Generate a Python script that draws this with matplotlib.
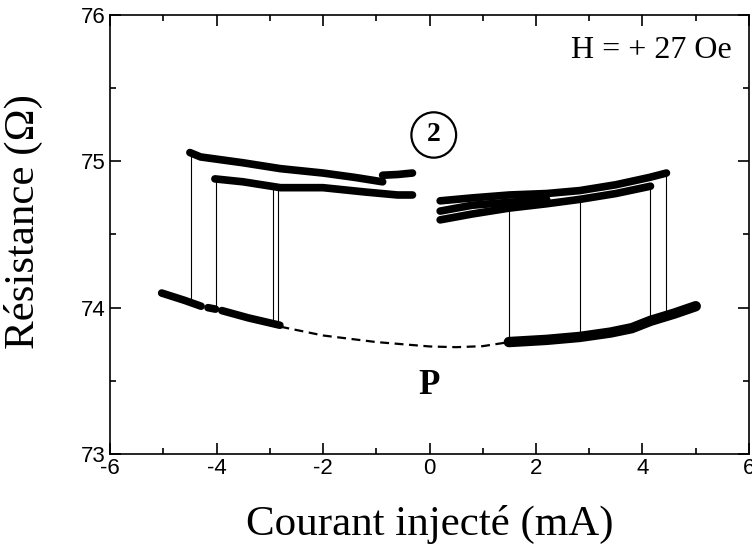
import numpy as np
import matplotlib.pyplot as plt
from matplotlib.patches import Ellipse

plt.rcParams['axes.unicode_minus'] = False

# --- data (current in mA, resistance in Ohm) ---
# upper (AP) branches, negative current
ap_neg1_x = [-4.50, -4.30, -3.5, -2.8, -2.0, -1.4, -0.88]
ap_neg1_r = [75.06, 75.03, 74.99, 74.95, 74.92, 74.89, 74.86]
ap_neg1b_x = [-0.88, -0.60, -0.32]
ap_neg1b_r = [74.905, 74.91, 74.92]
ap_neg2_x = [-4.03, -3.5, -2.8, -2.0, -1.2, -0.6, -0.32]
ap_neg2_r = [74.88, 74.86, 74.82, 74.82, 74.79, 74.77, 74.77]

# lower (P) branch, negative current (measured in pieces)
p_neg1_x = [-5.03, -4.6, -4.29]
p_neg1_r = [74.10, 74.05, 74.01]
p_neg2_x = [-4.16, -4.02]
p_neg2_r = [74.00, 73.99]
p_neg3_x = [-3.90, -3.4, -2.81]
p_neg3_r = [73.98, 73.93, 73.88]

# upper branches, positive current
ap_pos1_x = [0.20, 0.8, 1.5, 2.2, 2.82, 3.5, 4.13, 4.45]
ap_pos1_r = [74.73, 74.75, 74.77, 74.78, 74.80, 74.84, 74.89, 74.92]
ap_pos2_x = [0.20, 0.8, 1.49, 2.2, 2.82, 3.5, 4.15]
ap_pos2_r = [74.60, 74.64, 74.68, 74.71, 74.74, 74.78, 74.83]
ap_pos3_x = [0.20, 0.8, 1.5, 2.2]
ap_pos3_r = [74.66, 74.70, 74.72, 74.74]

# lower branch, positive current
p_pos_x = [1.49, 2.2, 2.82, 3.4, 3.8, 4.15, 4.6, 5.0]
p_pos_r = [73.765, 73.78, 73.80, 73.83, 73.86, 73.91, 73.96, 74.01]

# switching jumps: current, R at top, R at bottom
jumps_x = [-4.47, -4.01, -2.94, -2.84, 1.49, 2.82, 4.15, 4.44]
jumps_top = [75.06, 74.88, 74.82, 74.82, 74.68, 74.74, 74.83, 74.91]
jumps_bot = [74.02, 73.99, 73.89, 73.88, 73.77, 73.80, 73.91, 73.95]

# dashed guide for the P state
guide_x = [-2.8, -2.0, -1.0, 0.0, 0.5, 1.0, 1.5]
guide_r = [73.87, 73.81, 73.765, 73.735, 73.73, 73.737, 73.765]

serif = ['Liberation Serif', 'DejaVu Serif']
sans = ['Liberation Sans', 'DejaVu Sans']

fig = plt.figure(figsize=(7.52, 5.47), dpi=100)
ax = fig.add_axes([0.1463, 0.170, 0.8497, 0.8026])

thick = dict(color='black', linewidth=5.5, solid_capstyle='round')
for xs, rs in [(ap_neg1_x, ap_neg1_r), (ap_neg1b_x, ap_neg1b_r),
               (ap_neg2_x, ap_neg2_r), (p_neg1_x, p_neg1_r),
               (p_neg2_x, p_neg2_r), (p_neg3_x, p_neg3_r),
               (ap_pos1_x, ap_pos1_r), (ap_pos2_x, ap_pos2_r),
               (ap_pos3_x, ap_pos3_r)]:
    ax.plot(xs, rs, **thick)
ax.plot(p_pos_x, p_pos_r, color='black', linewidth=7.5, solid_capstyle='round')

ax.vlines(jumps_x, jumps_bot, jumps_top, color='black', linewidth=0.8)
ax.plot(guide_x, guide_r, color='black', linestyle=(0, (4, 2.5)), linewidth=1.6)

# annotations
ax.text(4.16, 75.755, 'H = + 27 Oe', fontsize=23, family=serif, ha='center', va='center')
ax.text(0.0, 73.47, 'P', fontsize=25, family=serif, fontweight='bold', ha='center', va='center')
ax.text(0.08, 75.18, '2', fontsize=20, family=serif, fontweight='bold', ha='center', va='center')
ax.add_patch(Ellipse((0.08, 75.18), 0.84, 0.31, fill=False, linewidth=1.6, color='black'))

ax.set_xlim(-6, 6)
ax.set_ylim(73, 76)
ax.set_xticks([-6, -4, -2, 0, 2, 4, 6])
ax.set_yticks([73, 74, 75, 76])
ax.set_xticks(np.arange(-5, 6, 2), minor=True)
ax.set_yticks([73.5, 74.5, 75.5], minor=True)
ax.tick_params(which='both', direction='in', top=True, right=True, width=1.2)
ax.tick_params(which='major', length=8, labelsize=16, pad=3)
ax.tick_params(which='minor', length=4)
for lab in ax.get_xticklabels() + ax.get_yticklabels():
    lab.set_family(sans)
for sp in ax.spines.values():
    sp.set_linewidth(1.2)

ax.set_xlabel('Courant injecté (mA)', fontsize=31, family=serif)
ax.set_ylabel('Résistance (Ω)', fontsize=31, family=serif)
ax.xaxis.set_label_coords(0.5, -0.115)
ax.yaxis.set_label_coords(-0.105, 0.53)

fig.savefig('out.png', dpi=100)
